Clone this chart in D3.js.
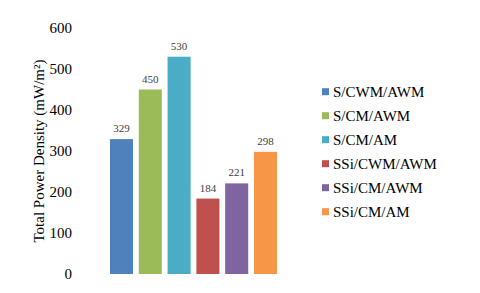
<!DOCTYPE html>
<html>
<head>
<meta charset="utf-8">
<script src="https://cdn.jsdelivr.net/npm/d3@7"></script>
<style>
  body { margin: 0; background: #fff; }
  svg text { font-family: "Liberation Serif", "Times New Roman", serif; }
</style>
</head>
<body>
<svg id="chart" width="480" height="293"></svg>
<script>
// data
const categories = ["S/CWM/AWM", "S/CM/AWM", "S/CM/AM", "SSi/CWM/AWM", "SSi/CM/AWM", "SSi/CM/AM"];
const values = [329, 450, 530, 184, 221, 298];
const colors = ["#4F81BD", "#9BBB59", "#4BACC6", "#C0504D", "#8064A2", "#F79646"];
const yTicks = [0, 100, 200, 300, 400, 500, 600];

const svg = d3.select('#chart');

const x = d3.scaleBand().domain(categories).range([107.1, 279.9]).paddingInner(0.2).paddingOuter(0.1);
const y = d3.scaleLinear().domain([0, 600]).range([274, 28]);

// y axis, labels only (no line, no ticks)
const yAxis = d3.axisLeft(y).tickValues(yTicks).tickSize(0).tickPadding(0);
const gy = svg.append('g').attr('transform', 'translate(72,0)').call(yAxis);
gy.select('.domain').remove();
gy.selectAll('text')
  .style('font-family', '"Liberation Serif", serif')
  .style('font-size', '15px')
  .attr('fill', '#000');

// bars
svg.selectAll('rect.bar').data(values).enter().append('rect')
  .attr('class', 'bar')
  .attr('x', (d, i) => x(categories[i]))
  .attr('y', d => y(d))
  .attr('width', x.bandwidth())
  .attr('height', d => y(0) - y(d))
  .style('fill', (d, i) => colors[i]);

// value labels
svg.selectAll('text.val').data(values).enter().append('text')
  .attr('class', 'val')
  .attr('x', (d, i) => x(categories[i]) + x.bandwidth() / 2)
  .attr('y', d => y(d) - 7)
  .attr('text-anchor', 'middle')
  .style('font-size', '11px')
  .style('fill', '#404040')
  .text(d => d);

// y title
svg.append('text')
  .attr('transform', 'translate(44,151) rotate(-90)')
  .attr('text-anchor', 'middle')
  .style('font-size', '15px')
  .style('fill', '#000')
  .text('Total Power Density (mW/m²)');

// legend
const legend = svg.selectAll('g.leg').data(categories).enter().append('g')
  .attr('class', 'leg')
  .attr('transform', (d, i) => `translate(322,${91.7 + i * 24})`);
legend.append('rect')
  .attr('x', 0).attr('y', -3.5)
  .attr('width', 7).attr('height', 7)
  .style('fill', (d, i) => colors[i]);
legend.append('text')
  .attr('x', 11).attr('y', 5)
  .style('font-size', '15px')
  .style('fill', '#000')
  .text(d => d);
</script>
</body>
</html>
